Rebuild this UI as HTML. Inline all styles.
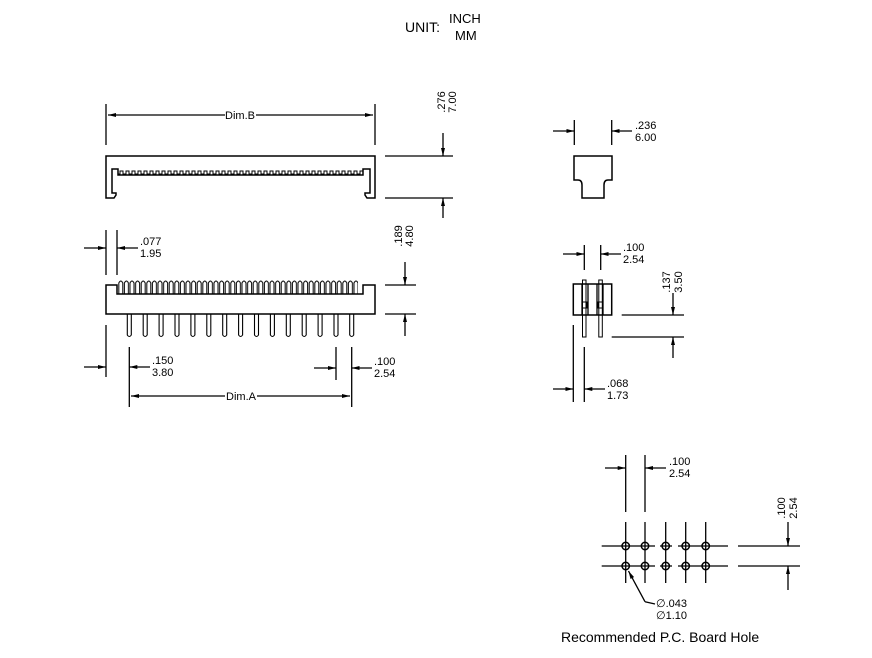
<!DOCTYPE html>
<html><head><meta charset="utf-8"><style>
html,body{margin:0;padding:0;background:#fff;}
svg{display:block;}
text{font-family:"Liberation Sans",Arial,sans-serif;fill:#000;}
.t{font-size:11px;}
</style></head><body>
<svg width="872" height="658" viewBox="0 0 872 658" xmlns="http://www.w3.org/2000/svg">
<defs>
<marker id="a" viewBox="0 0 8 4" refX="8" refY="2" markerWidth="8" markerHeight="4" orient="auto" markerUnits="userSpaceOnUse"><path d="M0,0 L8,2 L0,4 Z" fill="#000"/></marker>
<pattern id="comb" x="118" y="169" width="6" height="6" patternUnits="userSpaceOnUse"><path d="M0,5 H2 V2 H5 V5 H6" fill="none" stroke="#000" stroke-width="1"/></pattern>
<pattern id="cont" x="118" y="279" width="5.6" height="16" patternUnits="userSpaceOnUse"><path d="M0.8,15 V4 Q2.8,0 4.8,4 V15" fill="none" stroke="#000" stroke-width="1"/></pattern>
</defs>
<text x="405" y="32" font-size="14">UNIT:</text>
<text x="449" y="23" font-size="13">INCH</text>
<text x="455" y="40" font-size="13">MM</text>

<g stroke="#000" fill="none" stroke-width="1.3">
<line x1="106" y1="104" x2="106" y2="145"/>
<line x1="375" y1="104" x2="375" y2="145"/>
<line x1="225" y1="115" x2="108" y2="115" marker-end="url(#a)"/>
<line x1="256" y1="115" x2="373" y2="115" marker-end="url(#a)"/>
<path d="M106,156 H375 V198 H367 L365,195 V193 H370 V169 H363 V175 H118 V169 H112 V193 H116 V195 L114,198 H106 Z" stroke-width="1.5"/>
<rect x="118" y="169" width="245" height="6" fill="url(#comb)" stroke="none"/>
<line x1="385" y1="156" x2="453" y2="156"/>
<line x1="385" y1="198" x2="453" y2="198"/>
<line x1="443" y1="133" x2="443" y2="156" marker-end="url(#a)"/>
<line x1="443" y1="218" x2="443" y2="198" marker-end="url(#a)"/>

<path d="M106,285 H117 V294 H363 V285 H375 V314 H106 Z" stroke-width="1.5"/>
<rect x="118" y="279" width="240" height="15" fill="url(#cont)" stroke="none"/>
<line x1="106" y1="230" x2="106" y2="275"/>
<line x1="117" y1="230" x2="117" y2="275"/>
<line x1="84" y1="248" x2="106" y2="248" marker-end="url(#a)"/>
<line x1="138" y1="248" x2="117" y2="248" marker-end="url(#a)"/>
<line x1="106" y1="325" x2="106" y2="377"/>
<line x1="84" y1="367" x2="106" y2="367" marker-end="url(#a)"/>
<line x1="129.3" y1="347" x2="129.3" y2="407"/>
<line x1="150" y1="367" x2="129.3" y2="367" marker-end="url(#a)"/>
<line x1="336" y1="347" x2="336" y2="380"/>
<line x1="351.7" y1="347" x2="351.7" y2="407"/>
<line x1="314" y1="368" x2="336" y2="368" marker-end="url(#a)"/>
<line x1="372" y1="368" x2="351.7" y2="368" marker-end="url(#a)"/>
<line x1="225" y1="396" x2="131" y2="396" marker-end="url(#a)"/>
<line x1="257" y1="396" x2="350" y2="396" marker-end="url(#a)"/>
<line x1="385" y1="285" x2="416" y2="285"/>
<line x1="385" y1="314" x2="416" y2="314"/>
<line x1="405" y1="262" x2="405" y2="285" marker-end="url(#a)"/>
<line x1="405" y1="336" x2="405" y2="314" marker-end="url(#a)"/>
</g>
<g stroke="#000" fill="none" stroke-width="1.1">
<path d="M127.3,314 V335 Q129.3,338 131.3,335 V314"/>
<path d="M143.2,314 V335 Q145.2,338 147.2,335 V314"/>
<path d="M159.1,314 V335 Q161.1,338 163.1,335 V314"/>
<path d="M175,314 V335 Q177,338 179,335 V314"/>
<path d="M190.9,314 V335 Q192.9,338 194.9,335 V314"/>
<path d="M206.8,314 V335 Q208.8,338 210.8,335 V314"/>
<path d="M222.7,314 V335 Q224.7,338 226.7,335 V314"/>
<path d="M238.6,314 V335 Q240.6,338 242.6,335 V314"/>
<path d="M254.5,314 V335 Q256.5,338 258.5,335 V314"/>
<path d="M270.4,314 V335 Q272.4,338 274.4,335 V314"/>
<path d="M286.3,314 V335 Q288.3,338 290.3,335 V314"/>
<path d="M302.2,314 V335 Q304.2,338 306.2,335 V314"/>
<path d="M318.1,314 V335 Q320.1,338 322.1,335 V314"/>
<path d="M334,314 V335 Q336,338 338,335 V314"/>
<path d="M349.7,314 V335 Q351.7,338 353.7,335 V314"/>
</g>

<g stroke="#000" fill="none" stroke-width="1.3">
<line x1="574.3" y1="120" x2="574.3" y2="145"/>
<line x1="611.7" y1="120" x2="611.7" y2="145"/>
<line x1="553" y1="131" x2="574.3" y2="131" marker-end="url(#a)"/>
<line x1="632" y1="131" x2="611.7" y2="131" marker-end="url(#a)"/>
<path d="M574,156 H612 V180 H608 Q604,180 604,185 V198 H582 V185 Q582,180 578,180 H574 Z" stroke-width="1.5"/>

<line x1="584.3" y1="245" x2="584.3" y2="270"/>
<line x1="600.7" y1="245" x2="600.7" y2="270"/>
<line x1="563" y1="254" x2="584.3" y2="254" marker-end="url(#a)"/>
<line x1="621" y1="254" x2="600.7" y2="254" marker-end="url(#a)"/>
<rect x="573.3" y="284" width="38.4" height="31" stroke-width="1.5"/>
<line x1="582" y1="284" x2="582" y2="315"/>
<line x1="588" y1="284" x2="588" y2="315"/>
<line x1="597" y1="284" x2="597" y2="315"/>
<line x1="603" y1="284" x2="603" y2="315"/>
<rect x="582.5" y="280" width="3.5" height="57" stroke-width="1"/>
<rect x="598.8" y="280" width="3.5" height="57" stroke-width="1"/>
<rect x="582" y="302" width="5" height="6" stroke-width="1"/>
<rect x="598" y="302" width="5" height="6" stroke-width="1"/>
<line x1="621.7" y1="315" x2="684" y2="315"/>
<line x1="611.7" y1="337" x2="684" y2="337"/>
<line x1="673" y1="293" x2="673" y2="315" marker-end="url(#a)"/>
<line x1="673" y1="358" x2="673" y2="337" marker-end="url(#a)"/>
<line x1="573.3" y1="325" x2="573.3" y2="402"/>
<line x1="584.3" y1="347" x2="584.3" y2="402"/>
<line x1="553" y1="389" x2="573.3" y2="389" marker-end="url(#a)"/>
<line x1="605" y1="389" x2="584.3" y2="389" marker-end="url(#a)"/>

<line x1="625.7" y1="455" x2="625.7" y2="512"/>
<line x1="645" y1="455" x2="645" y2="512"/>
<line x1="605" y1="468" x2="625.7" y2="468" marker-end="url(#a)"/>
<line x1="666" y1="468" x2="645" y2="468" marker-end="url(#a)"/>
<line x1="625.7" y1="522" x2="625.7" y2="583"/>
<line x1="645" y1="522" x2="645" y2="583"/>
<line x1="665.7" y1="522" x2="665.7" y2="583"/>
<line x1="685.7" y1="522" x2="685.7" y2="583"/>
<line x1="705.7" y1="522" x2="705.7" y2="583"/>
<path d="M601.7,546 H655 M660,546 H672 M678,546 H728 M601.7,566 H655 M660,566 H672 M678,566 H728"/>
<circle cx="625.7" cy="546" r="3.7" stroke-width="1.5"/>
<circle cx="645" cy="546" r="3.7" stroke-width="1.5"/>
<circle cx="665.7" cy="546" r="3.7" stroke-width="1.5"/>
<circle cx="685.7" cy="546" r="3.7" stroke-width="1.5"/>
<circle cx="705.7" cy="546" r="3.7" stroke-width="1.5"/>
<circle cx="625.7" cy="566" r="3.7" stroke-width="1.5"/>
<circle cx="645" cy="566" r="3.7" stroke-width="1.5"/>
<circle cx="665.7" cy="566" r="3.7" stroke-width="1.5"/>
<circle cx="685.7" cy="566" r="3.7" stroke-width="1.5"/>
<circle cx="705.7" cy="566" r="3.7" stroke-width="1.5"/>
<line x1="738" y1="546" x2="800" y2="546"/>
<line x1="738" y1="566" x2="800" y2="566"/>
<line x1="788" y1="522" x2="788" y2="546" marker-end="url(#a)"/>
<line x1="788" y1="590" x2="788" y2="566" marker-end="url(#a)"/>
<path d="M655,604 L645,601.7"/>
<line x1="645" y1="601.7" x2="628.5" y2="571" marker-end="url(#a)"/>
</g>

<text x="240" y="119" class="t" text-anchor="middle">Dim.B</text>
<text x="241" y="400" class="t" text-anchor="middle">Dim.A</text>
<text class="t" transform="translate(445,102) rotate(-90)" text-anchor="middle">.276</text>
<text class="t" transform="translate(456,102) rotate(-90)" text-anchor="middle">7.00</text>
<text class="t" transform="translate(402,236) rotate(-90)" text-anchor="middle">.189</text>
<text class="t" transform="translate(413,236) rotate(-90)" text-anchor="middle">4.80</text>
<text class="t" transform="translate(670,282) rotate(-90)" text-anchor="middle">.137</text>
<text class="t" transform="translate(682,282) rotate(-90)" text-anchor="middle">3.50</text>
<text class="t" transform="translate(785,508) rotate(-90)" text-anchor="middle">.100</text>
<text class="t" transform="translate(797,508) rotate(-90)" text-anchor="middle">2.54</text>
<text x="140" y="245" class="t">.077</text><text x="140" y="257" class="t">1.95</text>
<text x="152" y="364" class="t">.150</text><text x="152" y="376" class="t">3.80</text>
<text x="374" y="365" class="t">.100</text><text x="374" y="377" class="t">2.54</text>
<text x="635" y="129" class="t">.236</text><text x="635" y="141" class="t">6.00</text>
<text x="623" y="251" class="t">.100</text><text x="623" y="263" class="t">2.54</text>
<text x="607" y="387" class="t">.068</text><text x="607" y="399" class="t">1.73</text>
<text x="669" y="465" class="t">.100</text><text x="669" y="477" class="t">2.54</text>
<text x="656" y="607" class="t" style='font-family:"DejaVu Sans",sans-serif'>∅<tspan style='font-family:"Liberation Sans",sans-serif'>.043</tspan></text>
<text x="656" y="619" class="t" style='font-family:"DejaVu Sans",sans-serif'>∅<tspan style='font-family:"Liberation Sans",sans-serif'>1.10</tspan></text>
<text x="561" y="642" font-size="14">Recommended P.C. Board Hole</text>
</svg>
</body></html>
